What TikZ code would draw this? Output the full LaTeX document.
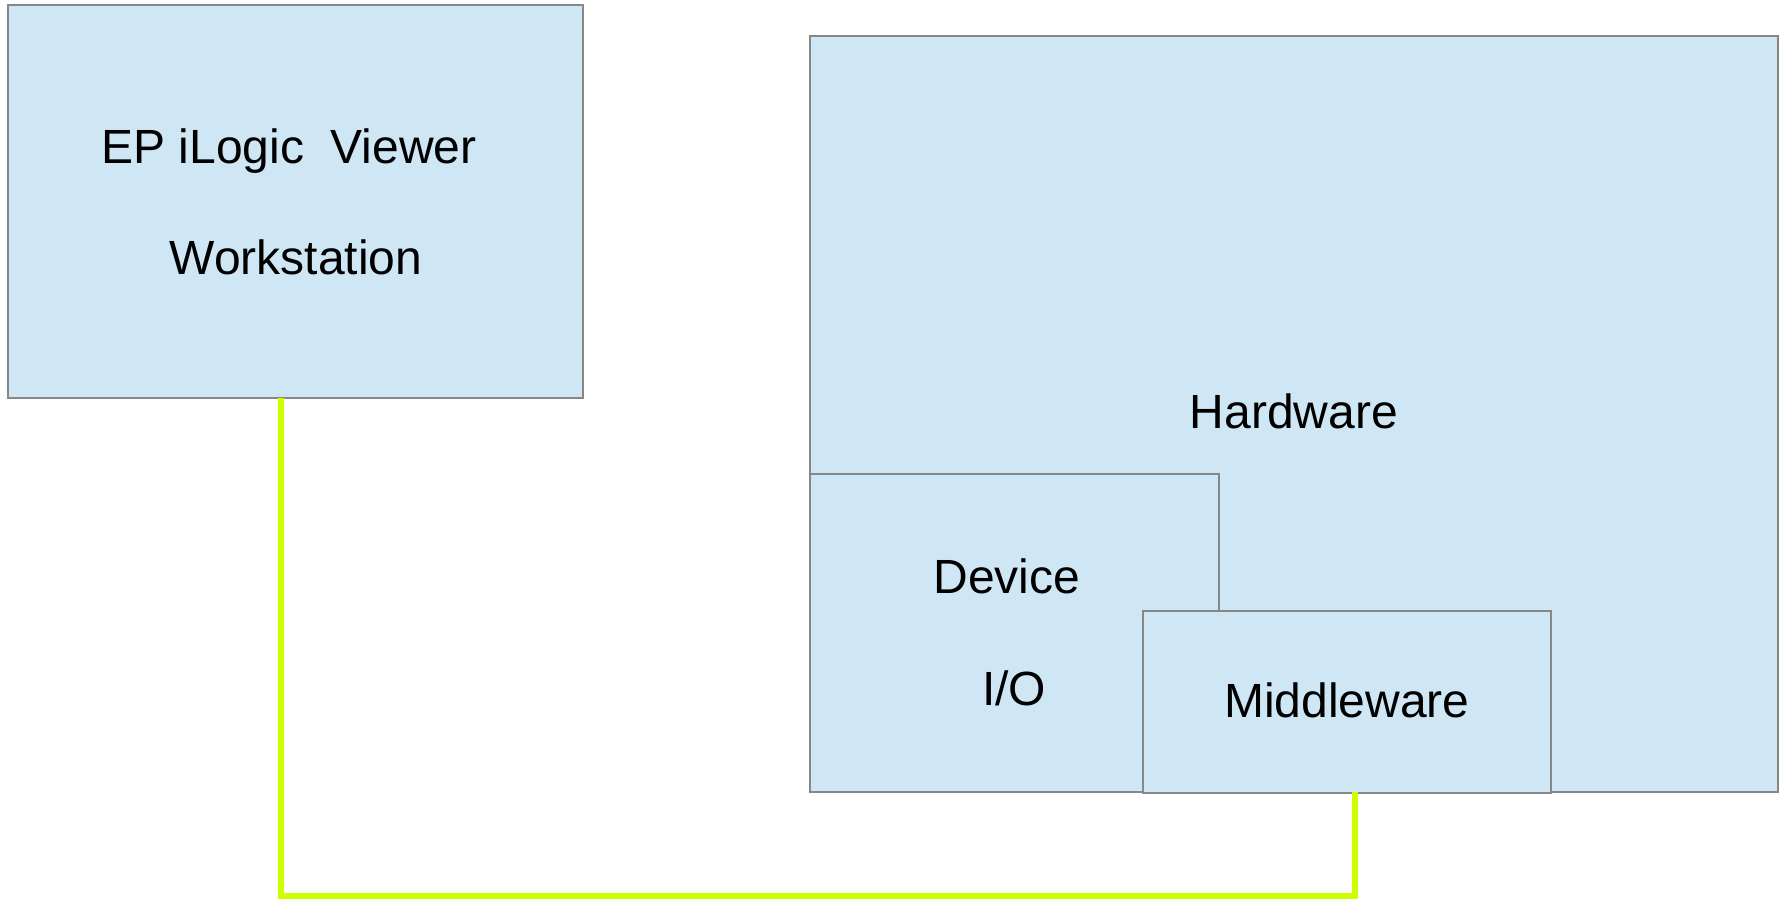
\documentclass[tikz,border=0pt]{standalone}
\usepackage{fontspec}
\setmainfont{Liberation Sans}
\definecolor{boxfill}{HTML}{CFE6F4}
\definecolor{boxline}{HTML}{878787}
\definecolor{wire}{HTML}{CCFF00}
\tikzset{
  box/.style={draw=boxline, fill=boxfill, line width=0.6pt, inner sep=0pt, outer sep=0pt, anchor=north west},
  lbl/.style={font=\fontsize{24pt}{28pt}\selectfont, anchor=base, inner sep=0pt},
  link/.style={draw=wire, line width=2.6pt}
}
\begin{document}
\begin{tikzpicture}[x=0.5pt,y=-0.5pt]
\useasboundingbox (0,0) rectangle (1784,899);
\node[box, minimum width=287.5pt, minimum height=196.5pt] (ws) at (8,5) {};
\node[box, minimum width=484pt, minimum height=378pt] (hw) at (810,36) {};
\node[box, minimum width=204.5pt, minimum height=159pt] (dev) at (810,474) {};
\node[box, minimum width=204pt, minimum height=91pt] (mw) at (1143,611) {};
\node[lbl] (t1) at (289,163) {EP iLogic\ \ Viewer};
\node[lbl] (t2) at (296,274) {Workstation};
\node[lbl] (t3) at (1294,428) {Hardware};
\node[lbl] (t4) at (1007,593) {Device};
\node[lbl] (t5) at (1014,705) {I/O};
\node[lbl] (t6) at (1347,717) {Middleware};
\coordinate (a) at (281,398);
\coordinate (b) at (1355,792);
\coordinate (c) at (281,896);
\coordinate (d) at (1355,896);
\draw[link] (a) -- (c) -- (d) -- (b);
\end{tikzpicture}
\end{document}
